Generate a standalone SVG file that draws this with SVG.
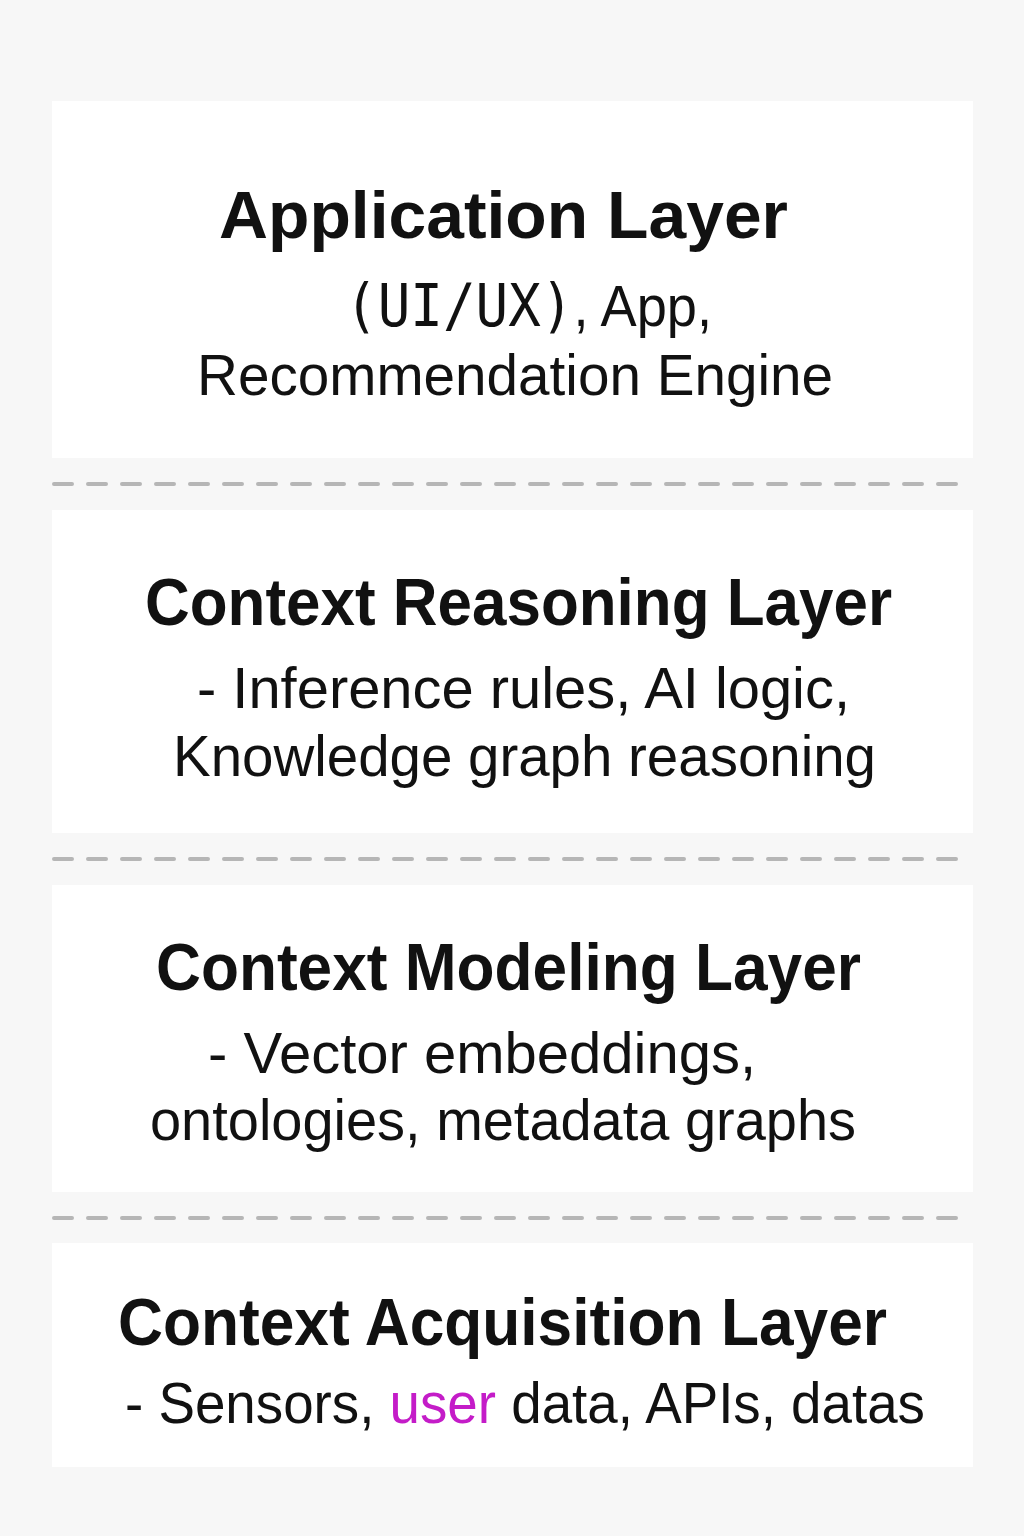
<svg xmlns="http://www.w3.org/2000/svg" width="1024" height="1536" viewBox="0 0 1024 1536">
  <style>
    .panel { fill: #ffffff; }
    .title { font-family: "Liberation Sans", Arial, sans-serif; font-weight: 700; font-size: 66px; fill: #111111; }
    .body { font-family: "Liberation Sans", Arial, sans-serif; font-weight: 400; font-size: 58px; fill: #111111; }
    .mono { font-family: "DejaVu Sans Mono", "Liberation Mono", monospace; }
    .hl { fill: #c41cc8; }
    .sep { stroke: #b6b6b6; stroke-width: 4; stroke-dasharray: 18 16; stroke-linecap: round; fill: none; }
  </style>
  <rect x="0" y="0" width="1024" height="1536" fill="#f7f7f7"/>

  <g id="application-layer">
    <rect class="panel" x="52" y="101" width="921" height="357"/>
    <text class="title" x="219" y="238" textLength="569" lengthAdjust="spacingAndGlyphs">Application Layer</text>
    <text class="body" x="345" y="326" textLength="367" lengthAdjust="spacingAndGlyphs"><tspan class="mono">(UI/UX)</tspan>, App,</text>
    <text class="body" x="197" y="395" textLength="636" lengthAdjust="spacingAndGlyphs">Recommendation Engine</text>
  </g>

  <g id="context-reasoning-layer">
    <rect class="panel" x="52" y="510" width="921" height="323"/>
    <text class="title" x="145" y="625" textLength="747" lengthAdjust="spacingAndGlyphs">Context Reasoning Layer</text>
    <text class="body" x="197" y="708" textLength="653" lengthAdjust="spacingAndGlyphs">- Inference rules, AI logic,</text>
    <text class="body" x="173" y="776" textLength="703" lengthAdjust="spacingAndGlyphs">Knowledge graph reasoning</text>
  </g>

  <g id="context-modeling-layer">
    <rect class="panel" x="52" y="885" width="921" height="307"/>
    <text class="title" x="156" y="990" textLength="705" lengthAdjust="spacingAndGlyphs">Context Modeling Layer</text>
    <text class="body" x="208" y="1073" textLength="548" lengthAdjust="spacingAndGlyphs">- Vector embeddings,</text>
    <text class="body" x="150" y="1140" textLength="706" lengthAdjust="spacingAndGlyphs">ontologies, metadata graphs</text>
  </g>

  <g id="context-acquisition-layer">
    <rect class="panel" x="52" y="1243" width="921" height="224"/>
    <text class="title" x="118" y="1345" textLength="769" lengthAdjust="spacingAndGlyphs">Context Acquisition Layer</text>
    <text class="body" x="125" y="1423" textLength="800" lengthAdjust="spacingAndGlyphs">- Sensors, <tspan class="hl">user</tspan> data, APIs, datas</text>
  </g>

  <g id="connectors">
    <line class="sep" x1="54" y1="484" x2="970" y2="484"/>
    <line class="sep" x1="54" y1="859" x2="970" y2="859"/>
    <line class="sep" x1="54" y1="1218" x2="970" y2="1218"/>
  </g>
</svg>
